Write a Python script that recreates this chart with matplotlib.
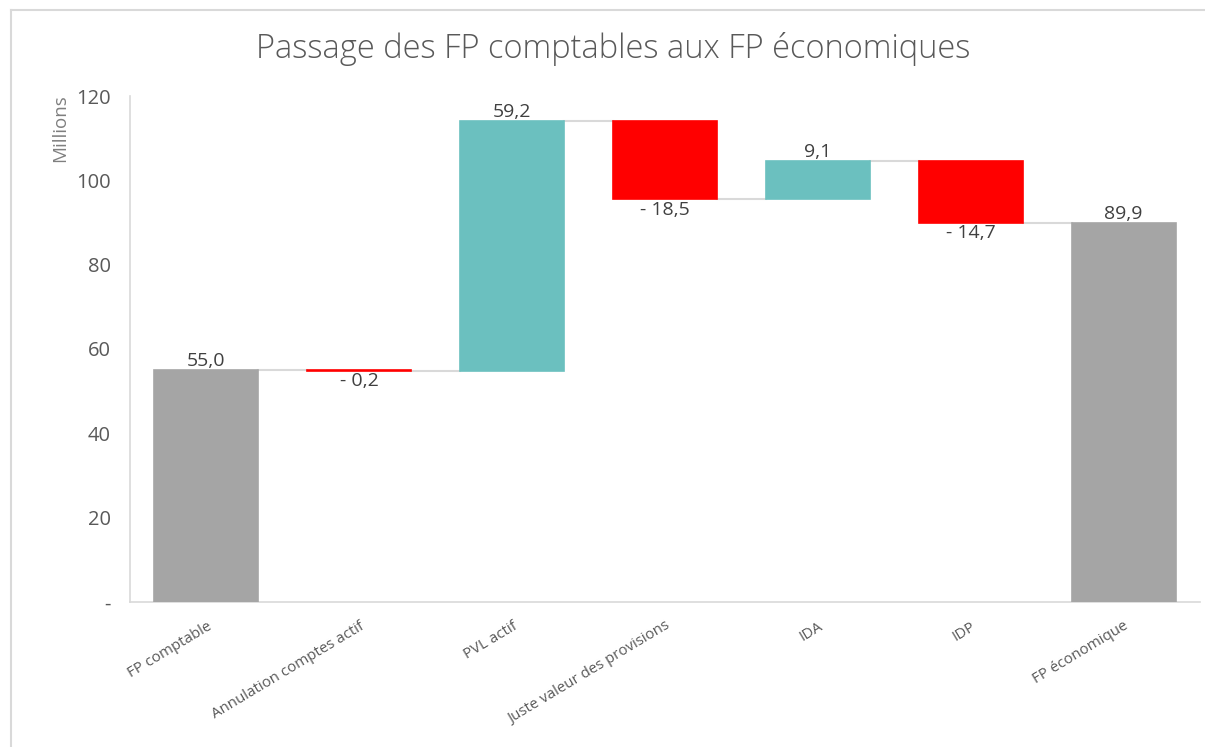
import matplotlib
matplotlib.use("Agg")
import matplotlib.pyplot as plt
from matplotlib.lines import Line2D

categories = ["FP comptable", "Annulation comptes actif", "PVL actif",
              "Juste valeur des provisions", "IDA", "IDP", "FP économique"]
values = [55.0, -0.2, 59.2, -18.5, 9.1, -14.7, 89.9]
kinds = ["total", "delta", "delta", "delta", "delta", "delta", "total"]
yticks = [0, 20, 40, 60, 80, 100, 120]
ytick_labels = ["-", "20", "40", "60", "80", "100", "120"]

GRAY = "#a5a5a5"
TEAL = "#6bc0bf"
RED = "#ff0000"
TXT = "#595959"

plt.rcParams["font.family"] = ["Open Sans", "DejaVu Sans"]

fig = plt.figure(figsize=(12.05, 7.47), dpi=100)
ax = fig.add_axes([130 / 1205, 1 - 602 / 747, 1070 / 1205, (602 - 96) / 747])

# outer chart border (top and left visible)
fig.add_artist(Line2D([11 / 1205, 1.0], [1 - 10 / 747, 1 - 10 / 747],
                      transform=fig.transFigure, color="#d9d9d9", lw=1.5))
fig.add_artist(Line2D([11 / 1205, 11 / 1205], [0.0, 1 - 10 / 747],
                      transform=fig.transFigure, color="#d9d9d9", lw=1.5))

width = 0.68
bottoms, heights, colors, levels = [], [], [], []
cum = 0.0
for v, k in zip(values, kinds):
    if k == "total":
        bottoms.append(0.0)
        heights.append(v)
        colors.append(GRAY)
        cum = v
    else:
        if v >= 0:
            bottoms.append(cum)
            heights.append(v)
            colors.append(TEAL)
        else:
            bottoms.append(cum + v)
            heights.append(-v)
            colors.append(RED)
        cum += v
    levels.append(cum)

x = list(range(len(values)))
ax.bar(x, heights, bottom=bottoms, width=width, color=colors,
       edgecolor=colors, linewidth=1.2, zorder=3)

# connectors
for i in range(len(values) - 1):
    ax.plot([i + width / 2, i + 1 - width / 2], [levels[i], levels[i]],
            color="#d9d9d9", lw=1.5, zorder=2)

# data labels
for i, v in enumerate(values):
    if kinds[i] == "total" or v >= 0:
        top = bottoms[i] + heights[i]
        ax.annotate(f"{v:.1f}".replace(".", ","), (i, top), xytext=(0, 0),
                    textcoords="offset points", ha="center", va="bottom",
                    fontsize=14, color="#404040")
    else:
        ax.annotate("- " + f"{-v:.1f}".replace(".", ","), (i, bottoms[i]),
                    xytext=(0, -1), textcoords="offset points", ha="center",
                    va="top", fontsize=14, color="#404040")

ax.set_xlim(-0.5, 6.5)
ax.set_ylim(0, 120)
ax.set_yticks(yticks)
ax.set_yticklabels(ytick_labels, fontsize=14.5, color=TXT)
ax.set_xticks(x)
ax.set_xticklabels(categories, rotation=31, ha="right", rotation_mode="anchor",
                   fontsize=10.8, color=TXT)
ax.tick_params(axis="both", length=0)
ax.tick_params(axis="y", pad=14)
ax.tick_params(axis="x", pad=12)

for s in ["top", "right"]:
    ax.spines[s].set_visible(False)
for s in ["left", "bottom"]:
    ax.spines[s].set_color("#d9d9d9")
    ax.spines[s].set_linewidth(1.2)

fig.text(60 / 1205, 1 - 94 / 747, "Millions", rotation=90, ha="center",
         va="top", fontsize=13.5, color="#7f7f7f")

fig.text(613 / 1205, 1 - 49 / 747, "Passage des FP comptables aux FP économiques",
         ha="center", va="center", fontsize=23.5, color=TXT, fontweight="light")

fig.savefig("out.png", dpi=100, facecolor="white")
